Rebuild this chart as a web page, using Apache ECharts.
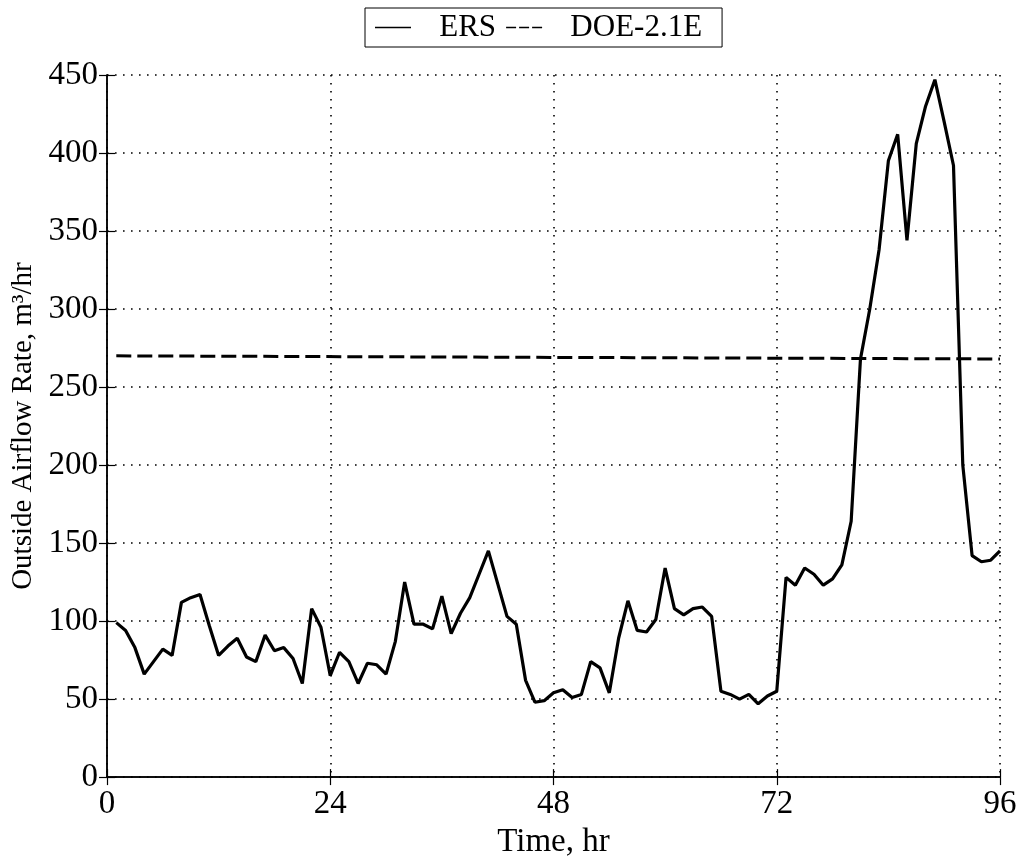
<!DOCTYPE html>
<html>
<head>
<meta charset="utf-8">
<script src="https://cdn.jsdelivr.net/npm/echarts@6/dist/echarts.min.js"></script>
<style>
  html, body { margin: 0; padding: 0; background: #fff; }
  #chart { width: 1022px; height: 864px; }
</style>
</head>
<body>
<div id="chart"></div>
<script>
// Hourly outside airflow rate (m3/hr), hours 1..96
const hours = [
  1, 2, 3, 4, 5, 6, 7, 8, 9, 10, 11, 12, 13, 14, 15, 16, 17, 18, 19, 20, 21, 22, 23, 24,
  25, 26, 27, 28, 29, 30, 31, 32, 33, 34, 35, 36, 37, 38, 39, 40, 41, 42, 43, 44, 45, 46, 47, 48,
  49, 50, 51, 52, 53, 54, 55, 56, 57, 58, 59, 60, 61, 62, 63, 64, 65, 66, 67, 68, 69, 70, 71, 72,
  73, 74, 75, 76, 77, 78, 79, 80, 81, 82, 83, 84, 85, 86, 87, 88, 89, 90, 91, 92, 93, 94, 95, 96
];
const ers = [
  99, 94, 83, 66, 74, 82, 78, 112, 115, 117, 97, 78, 84, 89, 77, 74, 91, 81, 83, 76, 60, 108, 96, 65,
  80, 74, 60, 73, 72, 66, 87, 125, 98, 98, 95, 116, 92, 105, 115, 130, 145, 124, 103, 98, 62, 48, 49, 54,
  56, 51, 53, 74, 70, 54, 89, 113, 94, 93, 101, 134, 108, 104, 108, 109, 103, 55, 53, 50, 53, 47, 52, 55,
  128, 123, 134, 130, 123, 127, 136, 164, 268, 300, 338, 395, 412, 344, 406, 430, 447, 420, 392, 200, 142, 138, 139, 145
];
// DOE-2.1E prediction: nearly constant rate
const doeHours = [1, 96];
const doe = [270, 268];

const xTicks = { min: 0, max: 96, interval: 24 };
const yTicks = { min: 0, max: 450, interval: 50 };

const font = 'Liberation Serif';
const chart = echarts.init(document.getElementById('chart'), null, { renderer: 'canvas' });

const dotted = { show: true, lineStyle: { color: '#000', type: [1.6, 6.4], width: 1.6 } };
const frameLine = { show: true, lineStyle: { color: '#000', width: 1.5 } };
const inTicks = { show: true, inside: true, length: 8, lineStyle: { color: '#000', width: 1.2 } };

// legend samples: a thin solid line and three short dashes
const solidIcon = 'path://M0,0h36v1.4h-36z';
const dashIcon = 'path://M0,0h10v1.4h-10zM13,0h10v1.4h-10zM26,0h10v1.4h-10z';

chart.setOption({
  backgroundColor: '#fff',
  animation: false,
  legend: {
    top: 8,
    left: 365,
    orient: 'horizontal',
    borderColor: '#000',
    borderWidth: 1,
    padding: [4, 20, 4, 10],
    itemGap: 10,
    itemWidth: 36,
    itemHeight: 1.4,
    formatter: name => '   ' + name,
    textStyle: { fontFamily: font, fontSize: 31, color: '#000' },
    data: [
      { name: 'ERS', icon: solidIcon, itemStyle: { color: '#000' } },
      { name: 'DOE-2.1E', icon: dashIcon, itemStyle: { color: '#000' } }
    ]
  },
  grid: { left: 107, right: 22, top: 75, bottom: 84, containLabel: false },
  xAxis: [
    {
      type: 'value', min: xTicks.min, max: xTicks.max, interval: xTicks.interval,
      name: 'Time, hr', nameLocation: 'middle', nameGap: 47,
      nameTextStyle: { fontFamily: font, fontSize: 33, color: '#000' },
      axisLine: frameLine,
      axisTick: inTicks,
      axisLabel: { fontFamily: font, fontSize: 33, color: '#000', margin: 11 },
      splitLine: dotted
    },
    {
      type: 'value', position: 'top', min: xTicks.min, max: xTicks.max, interval: xTicks.interval,
      axisLine: frameLine,
      axisTick: inTicks,
      axisLabel: { show: false },
      splitLine: { show: false }
    }
  ],
  yAxis: [
    {
      type: 'value', min: yTicks.min, max: yTicks.max, interval: yTicks.interval,
      name: 'Outside Airflow Rate, m³/hr', nameLocation: 'middle', nameGap: 66, nameRotate: 90,
      nameTextStyle: { fontFamily: font, fontSize: 29, color: '#000' },
      axisLine: frameLine,
      axisTick: inTicks,
      axisLabel: { fontFamily: font, fontSize: 33, color: '#000', margin: 9 },
      splitLine: dotted
    },
    {
      type: 'value', position: 'right', min: yTicks.min, max: yTicks.max, interval: yTicks.interval,
      axisLine: frameLine,
      axisTick: inTicks,
      axisLabel: { show: false },
      splitLine: { show: false }
    }
  ],
  series: [
    {
      name: 'ERS', type: 'line', xAxisIndex: 0, yAxisIndex: 0,
      symbol: 'none', smooth: false,
      lineStyle: { color: '#000', width: 3.2 },
      itemStyle: { color: '#000' },
      data: hours.map((h, i) => [h, ers[i]])
    },
    {
      name: 'DOE-2.1E', type: 'line', xAxisIndex: 0, yAxisIndex: 0,
      symbol: 'none',
      lineStyle: { color: '#000', width: 3, type: [15, 6] },
      itemStyle: { color: '#000' },
      data: doeHours.map((h, i) => [h, doe[i]])
    }
  ]
});
</script>
</body>
</html>
